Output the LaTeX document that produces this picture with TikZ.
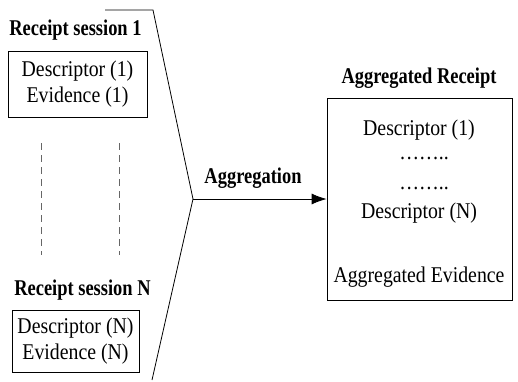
\documentclass[tikz,border=0pt]{standalone}
\usepackage{fontspec}
\setmainfont[FakeStretch=0.88,BoldFeatures={FakeStretch=0.82}]{Liberation Serif}
\usetikzlibrary{arrows.meta}

\begin{document}
\begin{tikzpicture}[x=1pt, y=1pt, font=\fontsize{22.5}{26}\selectfont,
    title/.style={font=\fontsize{22.5}{26}\selectfont\bfseries, inner sep=0pt},
    sessbox/.style={draw, thick, align=center, inner sep=0pt},
    txt/.style={inner sep=0pt}]
    \useasboundingbox (0, 0) rectangle (518, 381);
    % receipt sessions
    \node[title] (t1) at (75.5, 351) {Receipt session 1};
    \node[sessbox, minimum width=139pt, minimum height=66pt] (s1) at (77.5, 297) {Descriptor (1)\\Evidence (1)};
    \node[title] (tN) at (82.5, 91) {Receipt session N};
    \node[sessbox, minimum width=127pt, minimum height=62pt] (sN) at (75.5, 40) {Descriptor (N)\\Evidence (N)};
    \draw[gray!80!black, dash pattern=on 7pt off 5pt] (41, 238) -- (41, 126);
    \draw[gray!80!black, dash pattern=on 7pt off 5pt] (119, 238) -- (119, 126);
    % aggregation
    \coordinate (top) at (105, 371);
    \coordinate (bot) at (152, 1);
    \coordinate (apex) at (193, 182);
    \draw[thick] (top) -- (153, 371) -- (apex) -- (bot);
    \node[sessbox, minimum width=185pt, minimum height=202pt] (agg) at (419.5, 182) {};
    \draw[thick, -{Latex[length=15pt, width=11pt]}] (apex) -- (agg.west);
    \node[title] (ta) at (253, 203) {Aggregation};
    \node[title] (tr) at (419, 303) {Aggregated Receipt};
    % aggregated receipt content
    \node[txt] (d1) at (419, 251) {Descriptor (1)};
    \node[txt] (e1) at (424, 223) {……..};
    \node[txt] (e2) at (424, 193) {……..};
    \node[txt] (dN) at (419, 168) {Descriptor (N)};
    \node[txt] (ev) at (419, 104) {Aggregated Evidence};
\end{tikzpicture}
\end{document}
